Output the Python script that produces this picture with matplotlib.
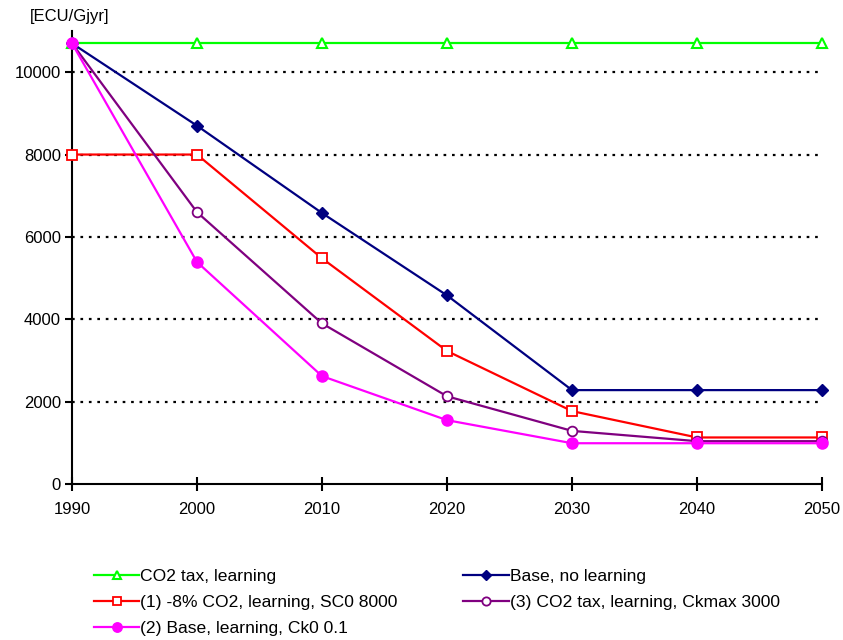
import matplotlib
matplotlib.use("Agg")
import matplotlib.pyplot as plt

plt.rcParams['font.family'] = ['Liberation Sans', 'DejaVu Sans']

years = [1990, 2000, 2010, 2020, 2030, 2040, 2050]
co2_tax_learning = [10700, 10700, 10700, 10700, 10700, 10700, 10700]
base_no_learning = [10700, 8700, 6580, 4580, 2280, 2280, 2280]
minus8_co2 = [8000, 8000, 5480, 3230, 1770, 1130, 1130]
co2_tax_ckmax = [10700, 6600, 3900, 2130, 1290, 1040, 1040]
base_learning_ck0 = [10700, 5390, 2620, 1550, 990, 990, 990]

labels = ["CO2 tax, learning", "Base, no learning",
          "(1) -8% CO2, learning, SC0 8000", "(3) CO2 tax, learning, Ckmax 3000",
          "(2) Base, learning, Ck0 0.1"]
yticks = [0, 2000, 4000, 6000, 8000, 10000]

fig = plt.figure(figsize=(8.43, 6.40), dpi=100)
ax = fig.add_axes([72/843, 1-484/640, 750/843, (484-31)/640])

lw = 1.6
l_green, = ax.plot(years, co2_tax_learning, color='#00FF00', lw=lw, marker='^', ms=7,
                   mfc='white', mec='#00FF00', mew=1.5, clip_on=False, zorder=3)
l_blue, = ax.plot(years, base_no_learning, color='#000080', lw=lw, marker='D', ms=6,
                  mfc='#000080', mec='#000080', clip_on=False, zorder=3)
l_red, = ax.plot(years, minus8_co2, color='#FF0000', lw=lw, marker='s', ms=7,
                 mfc='white', mec='#FF0000', mew=1.3, clip_on=False, zorder=3)
l_purple, = ax.plot(years, co2_tax_ckmax, color='#800080', lw=lw, marker='o', ms=7,
                    mfc='white', mec='#800080', mew=1.3, clip_on=False, zorder=3)
l_mag, = ax.plot(years, base_learning_ck0, color='#FF00FF', lw=lw, marker='o', ms=8,
                 mfc='#FF00FF', mec='#FF00FF', clip_on=False, zorder=4)

ax.set_xlim(1990, 2050)
ax.set_ylim(0, 11000)
ax.set_xticks(years)
ax.set_yticks(yticks)
for y in yticks[1:]:
    ax.axhline(y, color='black', lw=1.6, ls=(0, (1.2, 2.6)), zorder=1)

for s in ['top', 'right']:
    ax.spines[s].set_visible(False)
for s in ['left', 'bottom']:
    ax.spines[s].set_linewidth(1.5)
ax.tick_params(axis='x', direction='inout', length=10, width=1.5, labelsize=12, pad=8)
ax.tick_params(axis='y', direction='out', length=5, width=1.5, labelsize=12, pad=3)

fig.text(30/843, 1-17/640, "[ECU/Gjyr]", fontsize=12, va='center', ha='left')

handles = [l_green, l_red, l_mag, l_blue, l_purple]
hl = [labels[0], labels[2], labels[4], labels[1], labels[3]]
fig.legend(handles, hl, ncol=2, loc='upper left', bbox_to_anchor=(85/843, 1-560/640),
           frameon=False, fontsize=12.6, handlelength=2.6, handletextpad=0.05,
           columnspacing=3.75, labelspacing=0.62, borderpad=0, markerscale=0.85)

fig.savefig("out.png", dpi=100)
